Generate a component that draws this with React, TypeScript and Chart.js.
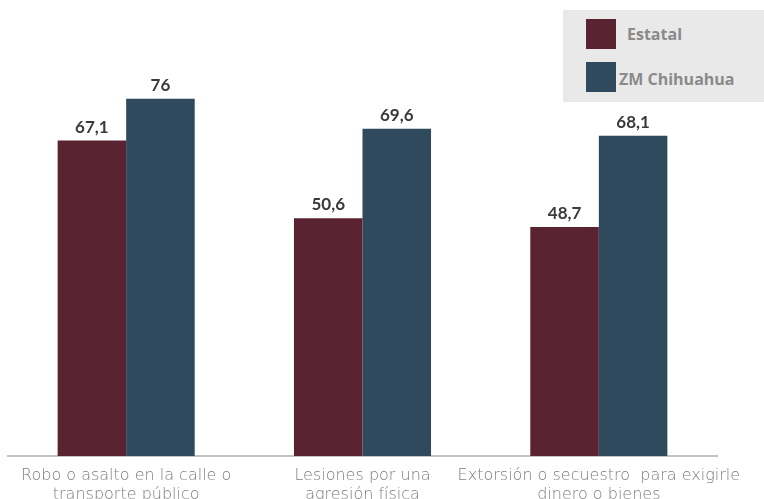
import React, { useEffect, useRef } from "react";
import { Chart, registerables } from "chart.js";

Chart.register(...registerables);

const categories: string[][] = [
  ["Robo o asalto en la calle o", "transporte público"],
  ["Lesiones por una", "agresión física"],
  ["Extorsión o secuestro  para exigirle", "dinero o bienes"],
];
const seriesNames = ["Estatal", "ZM Chihuahua"];
const estatalValues = [67.1, 50.6, 48.7];
const zmValues = [76, 69.6, 68.1];
const seriesColors = ["#5a2331", "#2f4a5c"];

const valueLabels = {
  id: "valueLabels",
  afterDatasetsDraw(chart: any) {
    const ctx = chart.ctx;
    ctx.save();
    ctx.font = "bold 17px Lato";
    ctx.fillStyle = "#3a3a3a";
    ctx.textAlign = "center";
    ctx.textBaseline = "alphabetic";
    chart.data.datasets.forEach((ds: any, i: number) => {
      const meta = chart.getDatasetMeta(i);
      meta.data.forEach((el: any, j: number) => {
        const v = ds.data[j];
        ctx.fillText(String(v).replace(".", ","), el.x, el.y - 8);
      });
    });
    ctx.restore();
  },
};

export default function App() {
  const ref = useRef<HTMLCanvasElement | null>(null);
  useEffect(() => {
    if (!ref.current) return;
    const chart = new Chart(ref.current, {
      type: "bar",
      data: {
        labels: categories,
        datasets: [
          {
            label: seriesNames[0],
            data: estatalValues,
            backgroundColor: seriesColors[0],
            categoryPercentage: 0.58,
            barPercentage: 1,
          },
          {
            label: seriesNames[1],
            data: zmValues,
            backgroundColor: seriesColors[1],
            categoryPercentage: 0.58,
            barPercentage: 1,
          },
        ],
      },
      options: {
        animation: false,
        responsive: true,
        maintainAspectRatio: false,
        layout: { padding: { left: 8, right: 47, top: 0, bottom: -15.8 } },
        plugins: {
          legend: { display: false },
          tooltip: { enabled: false },
          title: { display: false },
        },
        scales: {
          x: {
            grid: { display: false, drawTicks: false, tickLength: 0 },
            border: { display: true, color: "#c4c4c4", width: 2 },
            ticks: {
              autoSkip: false,
              maxRotation: 0,
              minRotation: 0,
              padding: 11,
              color: "#7d7d7d",
              font: { family: "DejaVu Sans", size: 16, weight: 200, lineHeight: 1.15 },
            },
          },
          y: {
            display: false,
            min: 0,
            max: 97,
          },
        },
      },
      plugins: [valueLabels],
    });
    return () => chart.destroy();
  }, []);

  return (
    <div
      style={{
        position: "absolute",
        left: 0,
        top: 0,
        width: 764,
        height: 499,
        background: "#ffffff",
        overflow: "hidden",
      }}
    >
      <canvas ref={ref} />
      <div
        style={{
          position: "absolute",
          left: 563,
          top: 10,
          width: 201,
          height: 92,
          background: "#e9e9e9",
          fontFamily: "Open Sans",
          fontWeight: 700,
          fontSize: 16,
          color: "#8a8a8a",
        }}
      >
        <div style={{ position: "absolute", left: 23, top: 9, width: 30, height: 30, background: seriesColors[0] }} />
        <div style={{ position: "absolute", left: 64, top: 14, lineHeight: "20px" }}>{seriesNames[0]}</div>
        <div style={{ position: "absolute", left: 23, top: 52, width: 30, height: 30, background: seriesColors[1] }} />
        <div style={{ position: "absolute", left: 56, top: 59, lineHeight: "20px" }}>{seriesNames[1]}</div>
      </div>
    </div>
  );
}
